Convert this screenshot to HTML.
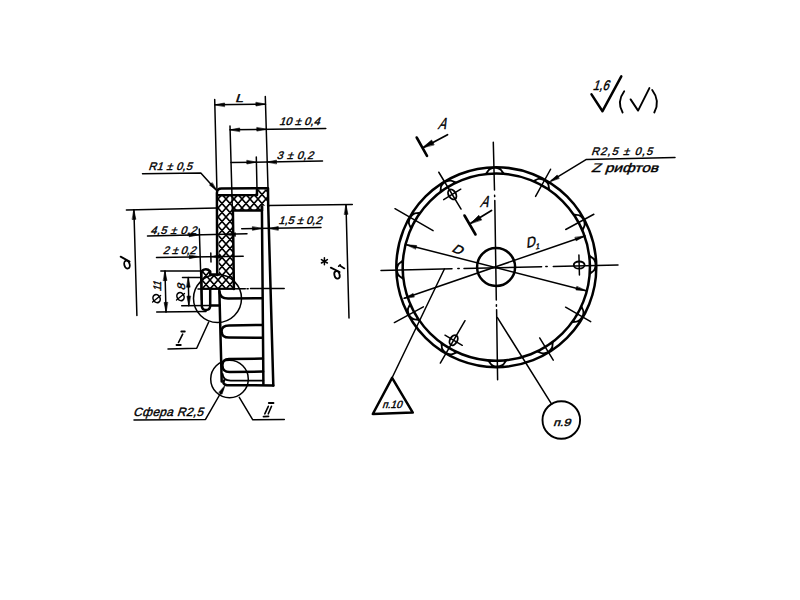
<!DOCTYPE html>
<html><head><meta charset="utf-8"><style>
html,body{margin:0;padding:0;background:#fff;}
body{width:800px;height:600px;overflow:hidden;}
svg{display:block;}
text{font-family:"Liberation Sans",sans-serif;fill:#000;stroke:#000;stroke-width:0.4px;}
</style></head><body>
<svg width="800" height="600" viewBox="0 0 800 600">
<defs>
<pattern id="hx" patternUnits="userSpaceOnUse" width="8" height="9" x="2" y="1">
<path d="M-1,1.125 L1,-1.125 M0,9 L8,0 M7,10.125 L9,7.875 M-1,7.875 L1,10.125 M0,0 L8,9 M7,-1.125 L9,1.125" stroke="#000" stroke-width="1.6" fill="none"/>
</pattern>
</defs>
<rect width="800" height="600" fill="#fff"/>
<g stroke="#000" stroke-linecap="round" stroke-linejoin="round" fill="none">
<path d="M217.6,195.5 L257,195.2 L257,189.6 L268,189.4 L268.2,205.6 L262,205.8 L262,210.4 L232.9,210.6 L233.9,288.7 L201.6,288.8 L201.4,273 L203.5,270 L207.5,269.6 L210.2,271.3 L210.3,274.6 L218.9,274.6Z" fill="url(#hx)" stroke="none"/>
<path d="M217.2,275 L216.9,193 Q217,188.6 221.5,188.6 L268,188.2 L268.2,206" stroke-width="2.5" fill="none" />
<path d="M217.6,195.3 L257,195.1 L257,189" stroke-width="2.5" fill="none"/>
<path d="M262,206.5 L262,210.4 L232.9,210.6 L233.9,289" stroke-width="2.5" fill="none"/>
<path d="M218.9,274.6 L210.3,274.6 L210.2,271.3 Q207.5,268.6 204,269.6 Q201.2,270.6 201.4,274 L201.8,306 Q202,310 206,310 Q210,310 210.2,306 L210.2,288.8" stroke-width="2.5" fill="none" />
<line x1="201.6" y1="288.8" x2="233.9" y2="288.8" stroke-width="1.9"/>
<line x1="219.3" y1="288.8" x2="221.7" y2="381.5" stroke-width="2.5"/>
<line x1="261.9" y1="206.5" x2="263.4" y2="384" stroke-width="2.5"/>
<line x1="268.2" y1="206" x2="273.3" y2="385.4" stroke-width="2.5"/>
<path d="M224,380.6 Q222,384 227,385.3 L273.3,385.4" stroke-width="2.5" fill="none" />
<line x1="210.2" y1="305.4" x2="219.6" y2="305.4" stroke-width="2.5"/>
<path d="M219.6,292 Q220,299 229,298.6 L261.5,298.2" stroke-width="2.5" fill="none" />
<path d="M262.2,325 L229,325.4 Q221.5,325.6 221.6,331.2 Q221.8,337.6 229,337.6 L262.4,337.8" stroke-width="2.5" fill="none" />
<path d="M262.9,358.6 L229,359 Q222.5,359.2 222.4,365.2 Q222.4,372 229.6,372 L263.1,371.6" stroke-width="2.5" fill="none" />
<path d="M222.6,374 Q223,380.6 230.6,380.6 L263.3,380.6" stroke-width="1.9" fill="none" />
<line x1="214.7" y1="99.5" x2="216.9" y2="188.5" stroke-width="1.5"/>
<line x1="265.3" y1="96.5" x2="268" y2="188.2" stroke-width="1.5"/>
<line x1="215" y1="104.8" x2="265.5" y2="104.2" stroke-width="1.5"/>
<path d="M215.1,104.8 L224.58,102.97 L224.62,106.37 Z" fill="#000" stroke-width="0.6"/>
<path d="M265.4,104.2 L255.92,106.02 L255.88,102.62 Z" fill="#000" stroke-width="0.6"/>
<text x="0" y="0" font-size="11.5" textLength="8" lengthAdjust="spacingAndGlyphs" transform="translate(235 101.6) skewX(-18)">L</text>
<line x1="230" y1="126" x2="232.4" y2="210.6" stroke-width="1.5"/>
<line x1="230" y1="129.8" x2="325.8" y2="128.6" stroke-width="1.5"/>
<path d="M230.2,129.8 L239.68,127.97 L239.72,131.37 Z" fill="#000" stroke-width="0.6"/>
<path d="M266.3,129.3 L256.82,131.12 L256.78,127.72 Z" fill="#000" stroke-width="0.6"/>
<text x="0" y="0" font-size="11" textLength="40.5" lengthAdjust="spacing" transform="translate(279 125.4) skewX(-18)">10 ± 0,4</text>
<line x1="256.3" y1="157" x2="257" y2="189" stroke-width="1.5"/>
<line x1="231" y1="162.6" x2="322.5" y2="161" stroke-width="1.5"/>
<path d="M256.3,162.2 L246.82,164.02 L246.78,160.62 Z" fill="#000" stroke-width="0.6"/>
<path d="M267,162 L276.48,160.18 L276.52,163.58 Z" fill="#000" stroke-width="0.6"/>
<text x="0" y="0" font-size="11" textLength="36.5" lengthAdjust="spacing" transform="translate(276.5 159.4) skewX(-18)">3 ± 0,2</text>
<path d="M142.5,173.8 L200.8,173 L216.4,190.2" stroke-width="1.5" fill="none"/>
<path d="M216.8,190.6 L209.49,185.08 L212,182.8 Z" fill="#000" stroke-width="0.6"/>
<text x="0" y="0" font-size="11" textLength="43.5" lengthAdjust="spacing" transform="translate(148.3 170.4) skewX(-18)">R1 ± 0,5</text>
<line x1="126.4" y1="209.9" x2="217" y2="208" stroke-width="1.5"/>
<line x1="268.2" y1="205.6" x2="352.3" y2="204.4" stroke-width="1.5"/>
<line x1="133.9" y1="209.8" x2="136.9" y2="315.5" stroke-width="1.5"/>
<path d="M133.9,209.9 L135.85,219.35 L132.45,219.44 Z" fill="#000" stroke-width="0.6"/>
<line x1="120.6" y1="256.6" x2="129.6" y2="261.6" stroke-width="1.8"/>
<ellipse cx="127" cy="264.6" rx="4" ry="2.7" transform="rotate(75 127 264.6)" stroke-width="1.8" fill="none"/>
<line x1="346" y1="204.8" x2="349" y2="318" stroke-width="1.5"/>
<path d="M346,204.9 L347.95,214.35 L344.55,214.44 Z" fill="#000" stroke-width="0.6"/>
<line x1="330.8" y1="267.6" x2="339.6" y2="272" stroke-width="1.8"/>
<ellipse cx="337" cy="274.9" rx="3.8" ry="2.6" transform="rotate(75 337 274.9)" stroke-width="1.8" fill="none"/>
<line x1="339.8" y1="265.6" x2="344.4" y2="268.4" stroke-width="1.8"/>
<line x1="338.6" y1="266.2" x2="340.2" y2="264.8" stroke-width="1.5"/>
<line x1="324.4" y1="257.8" x2="324.4" y2="264.8" stroke-width="1.5"/>
<line x1="321.4" y1="259.6" x2="327.4" y2="263" stroke-width="1.5"/>
<line x1="321.4" y1="263" x2="327.4" y2="259.6" stroke-width="1.5"/>
<line x1="241.7" y1="228.8" x2="321" y2="227.6" stroke-width="1.5"/>
<path d="M261.9,228.5 L252.42,230.32 L252.38,226.92 Z" fill="#000" stroke-width="0.6"/>
<path d="M268.8,228.4 L278.28,226.58 L278.32,229.97 Z" fill="#000" stroke-width="0.6"/>
<text x="0" y="0" font-size="11" textLength="43" lengthAdjust="spacing" transform="translate(278.3 224.4) skewX(-18)">1,5 ± 0,2</text>
<line x1="199.3" y1="229" x2="201.5" y2="300" stroke-width="1.5"/>
<line x1="147.5" y1="235.9" x2="247" y2="233.8" stroke-width="1.5"/>
<path d="M198.6,234.9 L189.14,236.79 L189.07,233.4 Z" fill="#000" stroke-width="0.6"/>
<path d="M226,234.6 L235.46,232.7 L235.53,236.1 Z" fill="#000" stroke-width="0.6"/>
<text x="0" y="0" font-size="11" textLength="46" lengthAdjust="spacing" transform="translate(150.3 234) skewX(-18)">4,5 ± 0,2</text>
<line x1="210.8" y1="253" x2="211" y2="262" stroke-width="1.5"/>
<line x1="156.5" y1="257.4" x2="243.2" y2="256.2" stroke-width="1.5"/>
<path d="M198.8,256.8 L189.32,258.63 L189.28,255.23 Z" fill="#000" stroke-width="0.6"/>
<path d="M211,256.6 L220.47,254.76 L220.52,258.16 Z" fill="#000" stroke-width="0.6"/>
<text x="0" y="0" font-size="11" textLength="33" lengthAdjust="spacing" transform="translate(162.7 253.8) skewX(-18)">2 ± 0,2</text>
<line x1="160.8" y1="270.9" x2="201.4" y2="270.9" stroke-width="1.5"/>
<line x1="156.7" y1="312" x2="206" y2="311.6" stroke-width="1.5"/>
<line x1="165" y1="271" x2="166" y2="312" stroke-width="1.5"/>
<path d="M165,271.1 L166.92,280.56 L163.52,280.64 Z" fill="#000" stroke-width="0.6"/>
<path d="M166,311.9 L164.08,302.44 L167.48,302.36 Z" fill="#000" stroke-width="0.6"/>
<ellipse cx="156.6" cy="298.6" rx="4.2" ry="3.4" transform="rotate(60 156.6 298.6)" stroke-width="1.6" fill="none"/>
<line x1="152.6" y1="302" x2="160.6" y2="295.4" stroke-width="1.3"/>
<text x="0" y="0" font-size="11" textLength="10" lengthAdjust="spacingAndGlyphs" transform="translate(160.6 291.6) rotate(-90) skewX(-18)">11</text>
<line x1="182.5" y1="277.5" x2="201.4" y2="277.5" stroke-width="1.5"/>
<line x1="181.7" y1="305.8" x2="210.2" y2="305.6" stroke-width="1.5"/>
<line x1="188.3" y1="277.6" x2="188.8" y2="305.7" stroke-width="1.5"/>
<path d="M188.3,277.7 L190.17,287.17 L186.77,287.23 Z" fill="#000" stroke-width="0.6"/>
<path d="M188.8,305.6 L186.94,296.13 L190.34,296.07 Z" fill="#000" stroke-width="0.6"/>
<ellipse cx="180.5" cy="296.6" rx="4.2" ry="3.4" transform="rotate(60 180.5 296.6)" stroke-width="1.6" fill="none"/>
<line x1="176.5" y1="300" x2="184.5" y2="293.4" stroke-width="1.3"/>
<text x="0" y="0" font-size="11" textLength="6.5" lengthAdjust="spacingAndGlyphs" transform="translate(184.6 290.6) rotate(-90) skewX(-18)">8</text>
<line x1="198" y1="288.9" x2="245.3" y2="288.8" stroke-width="1.5"/>
<line x1="247" y1="288.8" x2="248.2" y2="288.8" stroke-width="1.5"/>
<line x1="250.5" y1="288.6" x2="284.2" y2="288.4" stroke-width="1.5"/>
<circle cx="217.5" cy="298.6" r="24" stroke-width="1.5" fill="none"/>
<path d="M208.7,322 L196.7,348.2 L168,349" stroke-width="1.5" fill="none"/>
<line x1="181.3" y1="331.5" x2="184.8" y2="331.5" stroke-width="1.8"/>
<line x1="182.7" y1="334.2" x2="178.5" y2="342.5" stroke-width="1.6"/>
<line x1="176.5" y1="345" x2="180.8" y2="345" stroke-width="1.8"/>
<circle cx="229.5" cy="379" r="18.8" stroke-width="1.5" fill="none"/>
<path d="M134,420 L205.5,419.4 L223,389" stroke-width="1.5" fill="none"/>
<path d="M225,385.6 L221.98,394.25 L219.03,392.55 Z" fill="#000" stroke-width="0.6"/>
<path d="M239.3,397.4 L252.8,419.8 L284.3,419.4" stroke-width="1.5" fill="none"/>
<line x1="268.8" y1="403" x2="273.5" y2="403" stroke-width="1.8"/>
<line x1="268.3" y1="406.3" x2="264.8" y2="413.8" stroke-width="1.6"/>
<line x1="271.5" y1="406.3" x2="268.3" y2="413.8" stroke-width="1.6"/>
<line x1="263.5" y1="416.7" x2="268.5" y2="416.3" stroke-width="1.8"/>
<text x="0" y="0" font-size="12" textLength="70" lengthAdjust="spacing" transform="translate(133 416.3) skewX(-18)">Сфера R2,5</text>
<circle cx="496.3" cy="267.2" r="100" stroke-width="2.5" fill="none"/>
<circle cx="496.3" cy="267.2" r="93.6" stroke-width="2.5" fill="none"/>
<circle cx="496.1" cy="267" r="19" stroke-width="2.5" fill="none"/>
<path d="M484.41,174.36 L489.5,167.43 A100,100 0 0 1 499.96,167.27 L505.27,174.03 A93.6,93.6 0 0 0 484.41,174.36 Z" fill="#000" stroke="none"/>
<path d="M488.03,172.66 C489.69,167.62 499.78,167.46 501.6,172.45 A94.9,94.9 0 0 0 488.03,172.66 Z" fill="#fff" stroke="none"/>
<path d="M531.97,180.66 L539.82,177.17 A100,100 0 0 1 549,182.21 L550.25,190.72 A93.6,93.6 0 0 0 531.97,180.66 Z" fill="#000" stroke="none"/>
<path d="M535.96,180.98 C539.89,177.42 548.74,182.29 547.85,187.52 A94.9,94.9 0 0 0 535.96,180.98 Z" fill="#fff" stroke="none"/>
<path d="M572.88,213.38 L581.38,214.65 A100,100 0 0 1 586.41,223.83 L582.9,231.68 A93.6,93.6 0 0 0 572.88,213.38 Z" fill="#000" stroke="none"/>
<path d="M576.07,215.79 C581.3,214.91 586.15,223.76 582.59,227.69 A94.9,94.9 0 0 0 576.07,215.79 Z" fill="#fff" stroke="none"/>
<path d="M589.01,254.34 L595.99,259.35 A100,100 0 0 1 596.27,269.82 L589.56,275.2 A93.6,93.6 0 0 0 589.01,254.34 Z" fill="#000" stroke="none"/>
<path d="M590.75,257.94 C595.81,259.54 596.07,269.64 591.1,271.5 A94.9,94.9 0 0 0 590.75,257.94 Z" fill="#fff" stroke="none"/>
<path d="M581.87,305.12 L585.16,313.06 A100,100 0 0 1 579.88,322.1 L571.35,323.14 A93.6,93.6 0 0 0 581.87,305.12 Z" fill="#000" stroke="none"/>
<path d="M581.45,309.1 C584.9,313.13 579.81,321.85 574.6,320.82 A94.9,94.9 0 0 0 581.45,309.1 Z" fill="#fff" stroke="none"/>
<path d="M553.8,341.06 L552.94,349.61 A100,100 0 0 1 544.02,355.08 L536.01,351.96 A93.6,93.6 0 0 0 553.8,341.06 Z" fill="#000" stroke="none"/>
<path d="M551.54,344.36 C552.68,349.55 544.07,354.82 539.97,351.45 A94.9,94.9 0 0 0 551.54,344.36 Z" fill="#fff" stroke="none"/>
<path d="M507.71,360.1 L502.58,367 A100,100 0 0 1 492.11,367.11 L486.84,360.32 A93.6,93.6 0 0 0 507.71,360.1 Z" fill="#000" stroke="none"/>
<path d="M504.08,361.78 C502.39,366.81 492.29,366.92 490.51,361.92 A94.9,94.9 0 0 0 504.08,361.78 Z" fill="#fff" stroke="none"/>
<path d="M458.38,352.77 L450.44,356.06 A100,100 0 0 1 441.4,350.78 L440.36,342.25 A93.6,93.6 0 0 0 458.38,352.77 Z" fill="#000" stroke="none"/>
<path d="M454.4,352.35 C450.37,355.8 441.65,350.71 442.68,345.5 A94.9,94.9 0 0 0 454.4,352.35 Z" fill="#fff" stroke="none"/>
<path d="M419.72,321.02 L411.22,319.75 A100,100 0 0 1 406.19,310.57 L409.7,302.72 A93.6,93.6 0 0 0 419.72,321.02 Z" fill="#000" stroke="none"/>
<path d="M416.53,318.61 C411.3,319.49 406.45,310.64 410.01,306.71 A94.9,94.9 0 0 0 416.53,318.61 Z" fill="#fff" stroke="none"/>
<path d="M403.61,280.23 L396.62,275.22 A100,100 0 0 1 396.33,264.76 L403.03,259.37 A93.6,93.6 0 0 0 403.61,280.23 Z" fill="#000" stroke="none"/>
<path d="M401.87,276.63 C396.81,275.03 396.53,264.94 401.49,263.06 A94.9,94.9 0 0 0 401.87,276.63 Z" fill="#fff" stroke="none"/>
<path d="M410.53,229.73 L407.2,221.8 A100,100 0 0 1 412.43,212.74 L420.96,211.66 A93.6,93.6 0 0 0 410.53,229.73 Z" fill="#000" stroke="none"/>
<path d="M410.93,225.75 C407.46,221.74 412.51,212.99 417.72,214 A94.9,94.9 0 0 0 410.93,225.75 Z" fill="#fff" stroke="none"/>
<path d="M439.45,192.84 L440.38,184.3 A100,100 0 0 1 449.35,178.91 L457.34,182.1 A93.6,93.6 0 0 0 439.45,192.84 Z" fill="#000" stroke="none"/>
<path d="M441.73,189.56 C440.64,184.36 449.29,179.16 453.36,182.57 A94.9,94.9 0 0 0 441.73,189.56 Z" fill="#fff" stroke="none"/>
<line x1="535.57" y1="196.36" x2="550.6" y2="169.24" stroke-width="1.5"/>
<line x1="565.73" y1="229.5" x2="593.85" y2="214.24" stroke-width="1.5"/>
<line x1="565.58" y1="307.2" x2="590.7" y2="321.7" stroke-width="1.5"/>
<line x1="539.67" y1="337.97" x2="553.25" y2="360.14" stroke-width="1.5"/>
<line x1="423.36" y1="306.8" x2="394.36" y2="322.55" stroke-width="1.5"/>
<line x1="433.08" y1="230.7" x2="394.98" y2="208.7" stroke-width="1.5"/>
<line x1="579.43" y1="275.03" x2="578.91" y2="255.03" stroke-width="1.5"/>
<ellipse cx="579.17" cy="265.03" rx="5.4" ry="3.6" transform="rotate(-1.5 579.17 265.03)" stroke-width="1.9" fill="none"/>
<line x1="461.07" y1="209.04" x2="438.8" y2="172.25" stroke-width="1.5"/>
<line x1="460.77" y1="189.23" x2="443.66" y2="199.59" stroke-width="1.5"/>
<ellipse cx="452.22" cy="194.41" rx="5.4" ry="3.6" transform="rotate(238.8 452.22 194.41)" stroke-width="1.9" fill="none"/>
<line x1="465.02" y1="320.73" x2="440.3" y2="363.04" stroke-width="1.5"/>
<line x1="444.98" y1="335.2" x2="462.25" y2="345.29" stroke-width="1.5"/>
<ellipse cx="453.62" cy="340.24" rx="5.4" ry="3.6" transform="rotate(120.3 453.62 340.24)" stroke-width="1.9" fill="none"/>
<line x1="381" y1="270.4" x2="452" y2="268.8" stroke-width="1.5"/>
<line x1="457.8" y1="268.6" x2="459.2" y2="268.6" stroke-width="1.5"/>
<line x1="464" y1="268.5" x2="541.6" y2="266.7" stroke-width="1.5"/>
<line x1="545.8" y1="266.6" x2="547.2" y2="266.6" stroke-width="1.5"/>
<line x1="553.3" y1="266.4" x2="618" y2="264.9" stroke-width="1.5"/>
<line x1="493.3" y1="142.2" x2="494.5" y2="190" stroke-width="1.5"/>
<line x1="494.6" y1="195.2" x2="494.7" y2="196.6" stroke-width="1.5"/>
<line x1="494.8" y1="200.5" x2="496.3" y2="300" stroke-width="1.5"/>
<line x1="496.4" y1="304.8" x2="496.4" y2="306.2" stroke-width="1.5"/>
<line x1="496.6" y1="309.8" x2="497.6" y2="379.8" stroke-width="1.5"/>
<line x1="406.5" y1="244.7" x2="586" y2="290.7" stroke-width="1.5"/>
<path d="M406.5,244.7 L416.61,245.56 L415.75,248.86 Z" fill="#000" stroke-width="0.6"/>
<path d="M586,290.7 L575.89,289.92 L576.71,286.63 Z" fill="#000" stroke-width="0.6"/>
<text x="0" y="0" font-size="12.5" textLength="10" lengthAdjust="spacingAndGlyphs" transform="translate(451 251) rotate(24) skewX(-18)">D</text>
<line x1="404.2" y1="298.3" x2="585" y2="236" stroke-width="1.5"/>
<path d="M404.2,298.3 L413.12,293.47 L414.21,296.69 Z" fill="#000" stroke-width="0.6"/>
<path d="M585,236 L576.09,240.85 L574.99,237.64 Z" fill="#000" stroke-width="0.6"/>
<text x="0" y="0" font-size="14" textLength="9.5" lengthAdjust="spacingAndGlyphs" transform="translate(526.6 248) rotate(-14) skewX(-18)">D</text>
<text x="0" y="0" font-size="8" textLength="4" lengthAdjust="spacingAndGlyphs" transform="translate(535.6 249.4) rotate(-10) skewX(-18)">1</text>
<line x1="416.7" y1="137.5" x2="427" y2="155.8" stroke-width="2.6"/>
<line x1="447.5" y1="134.7" x2="424" y2="147.2" stroke-width="1.8"/>
<path d="M422.6,147.6 L431.62,140 L434.01,144.62 Z" fill="#000" stroke-width="0.6"/>
<text x="0" y="0" font-size="16" textLength="8" lengthAdjust="spacingAndGlyphs" transform="translate(437.6 129.4) skewX(-22)">A</text>
<line x1="464.5" y1="215.5" x2="475.5" y2="234.5" stroke-width="2.6"/>
<line x1="491.5" y1="210.5" x2="471" y2="223" stroke-width="1.8"/>
<path d="M470.4,223.6 L478.8,215.33 L481.54,219.74 Z" fill="#000" stroke-width="0.6"/>
<text x="0" y="0" font-size="16" textLength="8" lengthAdjust="spacingAndGlyphs" transform="translate(479.8 207.2) skewX(-22)">A</text>
<line x1="444.4" y1="269" x2="392.1" y2="377.8" stroke-width="1.5"/>
<path d="M392.1,377.8 L372.8,414 L412.8,412.6Z" stroke-width="2.5" fill="none"/>
<text x="0" y="0" font-size="10.5" textLength="19.5" lengthAdjust="spacingAndGlyphs" transform="translate(382 408.2) skewX(-18)">п.10</text>
<line x1="497.4" y1="317.6" x2="551.6" y2="404.2" stroke-width="1.5"/>
<circle cx="561.3" cy="420" r="18.8" stroke-width="1.9" fill="none"/>
<text x="0" y="0" font-size="10.5" textLength="17.5" lengthAdjust="spacingAndGlyphs" transform="translate(552.9 426.4) skewX(-18)">п.9</text>
<path d="M675,157.6 L586,159.6 L551.5,180.6" stroke-width="1.5" fill="none"/>
<path d="M549.6,181.8 L557.2,175.06 L559.07,178.13 Z" fill="#000" stroke-width="0.6"/>
<text x="0" y="0" font-size="11" textLength="61" lengthAdjust="spacing" transform="translate(591 154.6) skewX(-18)">R2,5 ± 0,5</text>
<text x="0" y="0" font-size="12.5" textLength="67" lengthAdjust="spacingAndGlyphs" transform="translate(591 172.2) skewX(-18)">Z рифтов</text>
<path d="M591.5,94.4 L602.5,111.2 L621.3,76.3" stroke-width="2.5" fill="none"/>
<text x="0" y="0" font-size="14" textLength="16" lengthAdjust="spacingAndGlyphs" transform="translate(592.6 90.4) skewX(-18)">1,6</text>
<path d="M630.6,99.4 L638.1,110.6 L649.4,88.1" stroke-width="1.9" fill="none"/>
<path d="M624.2,91.3 Q616.5,101.8 622.6,112.5" stroke-width="1.9" fill="none" />
<path d="M652.2,90 Q660.5,101 654.3,112.5" stroke-width="1.9" fill="none" />
</g>
</svg>
</body></html>
